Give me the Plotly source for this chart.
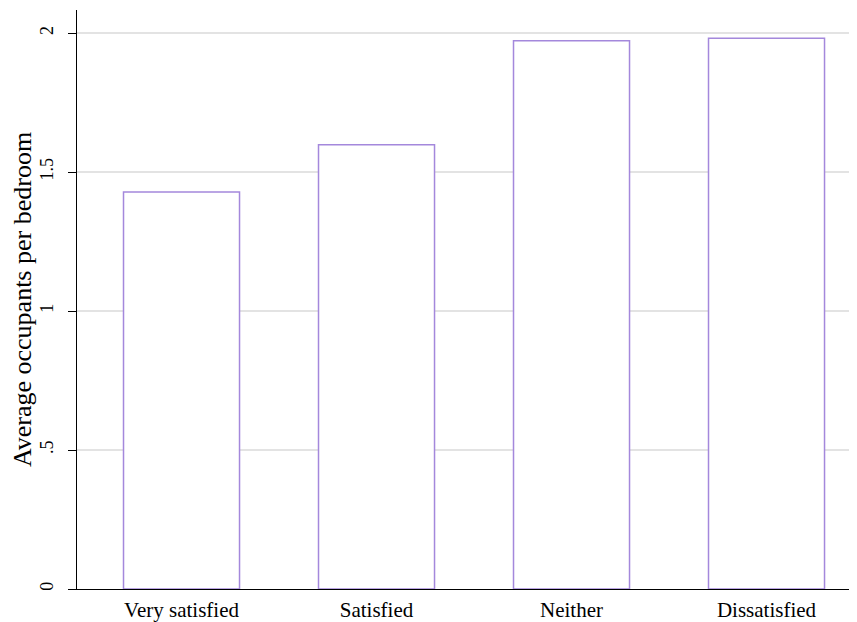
import plotly.graph_objects as go

categories = ["Very satisfied", "Satisfied", "Neither", "Dissatisfied"]
values = [1.428, 1.598, 1.972, 1.981]
tick_vals = [0, 0.5, 1, 1.5, 2]
tick_text = ["0", ".5", "1", "1.5", "2"]

FONT = "Liberation Serif"
PURPLE = "#a488dc"

fig = go.Figure(go.Bar(
    x=list(range(len(categories))),
    y=values,
    width=0.595,
    marker=dict(color="white", line=dict(color=PURPLE, width=1.5)),
    hoverinfo="skip",
))

fig.update_layout(
    width=849, height=614,
    margin=dict(l=69, r=0, t=2, b=33),
    paper_bgcolor="white", plot_bgcolor="white",
    font=dict(family=FONT, size=20, color="black"),
    showlegend=False,
    xaxis=dict(
        range=[-0.536, 3.464],
        tickvals=list(range(len(categories))),
        ticktext=categories,
        showgrid=False, zeroline=False,
        showline=True, linecolor="black", linewidth=1.2,
        ticks="", tickfont=dict(family=FONT, size=21),
        ticklabelstandoff=2,
    ),
    yaxis=dict(
        range=[0, 2.083],
        tickvals=tick_vals, ticktext=tick_text,
        tickangle=-90,
        showgrid=True, gridcolor="#e3e3e3", gridwidth=1.5,
        zeroline=False,
        showline=True, linecolor="black", linewidth=1.2,
        ticks="outside", ticklen=8, tickcolor="black", tickwidth=1,
        tickfont=dict(family=FONT, size=18),
        ticklabelstandoff=8,
        title=dict(text="Average occupants per bedroom",
                   font=dict(family=FONT, size=26), standoff=5),
    ),
)

fig.write_html("out.html")
